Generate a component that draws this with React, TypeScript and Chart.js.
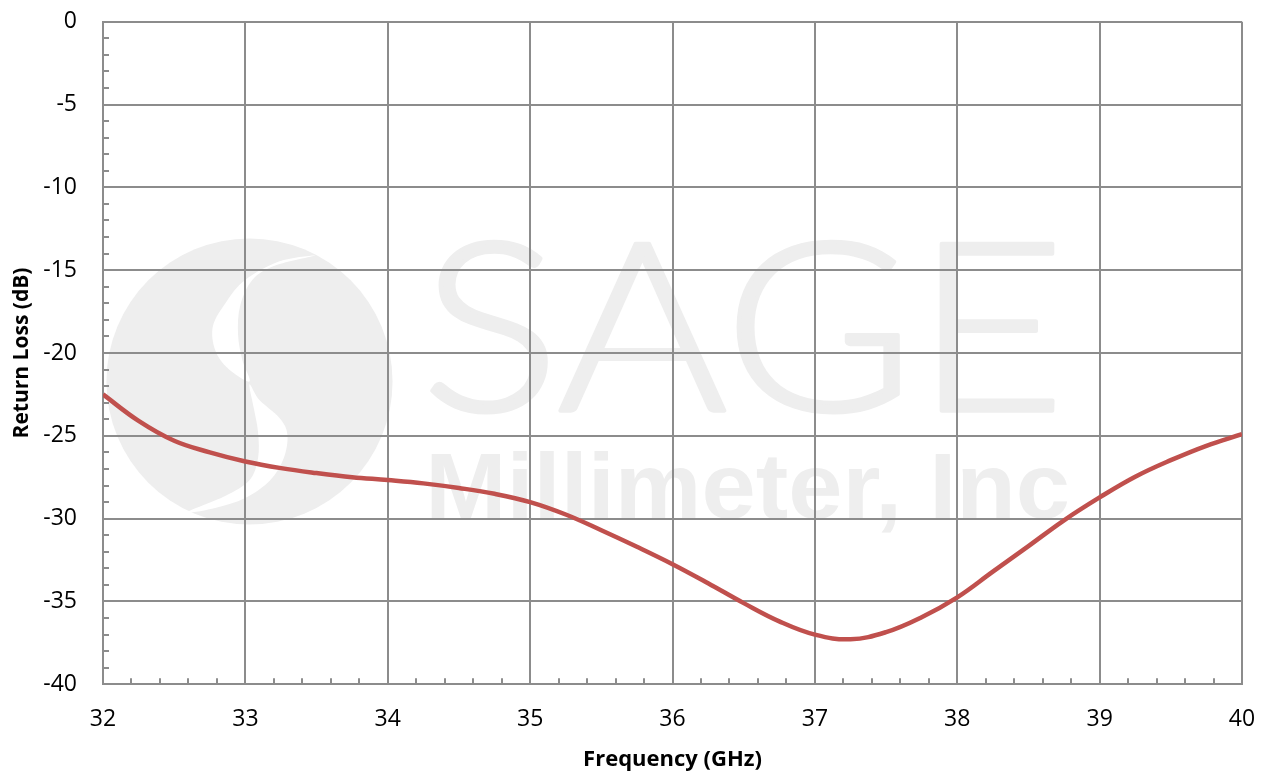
import React, { useEffect, useRef } from "react";
import { Chart, registerables } from "chart.js";

Chart.register(...registerables);

// ---- data ----
const frequencyGHz = [
  32, 32.25, 32.5, 32.75, 33, 33.25, 33.5, 33.75, 34, 34.25, 34.5, 34.75,
  35, 35.25, 35.5, 35.75, 36, 36.25, 36.5, 36.75, 37, 37.25, 37.5, 37.75,
  38, 38.25, 38.5, 38.75, 39, 39.25, 39.5, 39.75, 40,
];
const returnLossDb = [
  -22.5, -24.1, -25.3, -26.0, -26.55, -26.95, -27.25, -27.5, -27.67, -27.87,
  -28.15, -28.5, -29.0, -29.75, -30.7, -31.7, -32.75, -33.9, -35.1, -36.2,
  -37.0, -37.28, -36.85, -35.95, -34.75, -33.2, -31.66, -30.1, -28.72, -27.47,
  -26.47, -25.6, -24.9,
];
const xTickValues = [32, 33, 34, 35, 36, 37, 38, 39, 40];
const yTickValues = [0, -5, -10, -15, -20, -25, -30, -35, -40];
const xMinorStep = 0.2;
const yMinorStep = 1;
const xTitle = "Frequency (GHz)";
const yTitle = "Return Loss (dB)";
const watermarkTitle = "SAGE";
const watermarkSubtitle = "Millimeter, Inc";

// ---- styles ----
const GRID = "#8c8c8c";
const LINE = "#C0504D";
const WM = "#eeeeee";
const FONT = "'Open Sans', 'Liberation Sans', sans-serif";

// logo cut-out shapes, in units of the logo radius relative to its centre
const logoUpperCut: [number, number][] = [
  [0.46, -0.88], [0.21, -0.84], [-0.03, -0.71], [-0.16, -0.56], [-0.255, -0.39],
  [-0.24, -0.22], [-0.15, -0.09], [0.0, 0.0], [-0.05, -0.15], [-0.08, -0.33],
  [-0.065, -0.53], [0.02, -0.71], [0.18, -0.81],
];
const logoLowerCut: [number, number][] = [
  [0.0, 0.02], [0.07, 0.13], [0.21, 0.255], [0.265, 0.37], [0.24, 0.535],
  [0.145, 0.69], [-0.03, 0.815], [-0.24, 0.885], [-0.44, 0.915], [-0.17, 0.8],
  [0.0, 0.69], [0.06, 0.535], [0.06, 0.355], [0.03, 0.185],
];

function catmullClosedPath(ctx: CanvasRenderingContext2D, pts: [number, number][]) {
  const n = pts.length;
  ctx.beginPath();
  ctx.moveTo(pts[0][0], pts[0][1]);
  for (let i = 0; i < n; i++) {
    const p0 = pts[(i - 1 + n) % n];
    const p1 = pts[i];
    const p2 = pts[(i + 1) % n];
    const p3 = pts[(i + 2) % n];
    const c1x = p1[0] + (p2[0] - p0[0]) / 6;
    const c1y = p1[1] + (p2[1] - p0[1]) / 6;
    const c2x = p2[0] - (p3[0] - p1[0]) / 6;
    const c2y = p2[1] - (p3[1] - p1[1]) / 6;
    ctx.bezierCurveTo(c1x, c1y, c2x, c2y, p2[0], p2[1]);
  }
  ctx.closePath();
}

function drawFittedText(
  ctx: CanvasRenderingContext2D,
  text: string,
  font: string,
  left: number,
  baseline: number,
  width: number,
  strokeWidth: number
) {
  ctx.save();
  ctx.font = font;
  ctx.textAlign = "left";
  ctx.textBaseline = "alphabetic";
  const w = ctx.measureText(text).width || 1;
  ctx.translate(left, baseline);
  ctx.scale(width / w, 1);
  ctx.fillText(text, 0, 0);
  if (strokeWidth > 0) {
    ctx.lineWidth = strokeWidth;
    ctx.lineJoin = "round";
    ctx.strokeText(text, 0, 0);
  }
  ctx.restore();
}

const watermarkPlugin = {
  id: "watermark",
  beforeDraw(chart: any) {
    const { ctx, chartArea: ca } = chart;
    ctx.save();
    ctx.fillStyle = "#ffffff";
    ctx.fillRect(0, 0, chart.width, chart.height);

    const W = ca.right - ca.left;
    const H = ca.bottom - ca.top;
    // logo
    const cx = ca.left + 0.1286 * W;
    const cy = ca.top + 0.543 * H;
    const r = 0.1256 * W;
    ctx.fillStyle = WM;
    ctx.beginPath();
    ctx.arc(cx, cy, r, 0, Math.PI * 2);
    ctx.fill();
    ctx.fillStyle = "#ffffff";
    for (const shape of [logoUpperCut, logoLowerCut]) {
      catmullClosedPath(ctx, shape.map(([dx, dy]) => [cx + dx * r, cy + dy * r] as [number, number]));
      ctx.fill();
    }
    // text
    ctx.fillStyle = WM;
    ctx.strokeStyle = WM;
    drawFittedText(ctx, watermarkTitle, `300 236px Lato, ${FONT}`, ca.left + 0.279 * W, ca.top + 0.587 * H, 0.566 * W, 4);
    drawFittedText(ctx, watermarkSubtitle, `bold 92px 'Liberation Sans', Arial, sans-serif`, ca.left + 0.283 * W, ca.top + 0.749 * H, 0.566 * W, 0);
    ctx.restore();
  },
};

const minorTicksPlugin = {
  id: "minorTicks",
  beforeDatasetsDraw(chart: any) {
    const { ctx, chartArea: ca, scales } = chart;
    const xs = scales.x;
    const ys = scales.y;
    ctx.save();
    ctx.strokeStyle = GRID;
    ctx.lineWidth = 2;
    ctx.beginPath();
    const xMin = xTickValues[0];
    const xMax = xTickValues[xTickValues.length - 1];
    const xCount = Math.round((xMax - xMin) / xMinorStep);
    for (let i = 1; i < xCount; i++) {
      if (i % 5 === 0) continue;
      const px = Math.round(xs.getPixelForValue(xMin + i * xMinorStep));
      ctx.moveTo(px, ca.bottom);
      ctx.lineTo(px, ca.bottom - 6);
    }
    const yMax = yTickValues[0];
    const yMin = yTickValues[yTickValues.length - 1];
    const yCount = Math.round((yMax - yMin) / yMinorStep);
    for (let i = 1; i < yCount; i++) {
      if (i % 5 === 0) continue;
      const py = Math.round(ys.getPixelForValue(yMin + i * yMinorStep));
      ctx.moveTo(ca.left, py);
      ctx.lineTo(ca.left + 6, py);
    }
    ctx.stroke();
    ctx.restore();
  },
};

export default function App() {
  const canvasRef = useRef<HTMLCanvasElement | null>(null);

  useEffect(() => {
    if (!canvasRef.current) return;
    const points = frequencyGHz.map((f, i) => ({ x: f, y: returnLossDb[i] }));
    const chart = new Chart(canvasRef.current, {
      type: "line",
      data: {
        datasets: [
          {
            data: points,
            borderColor: LINE,
            borderWidth: 4.5,
            pointRadius: 0,
            tension: 0.4,
            fill: false,
          },
        ],
      },
      options: {
        animation: false,
        responsive: true,
        maintainAspectRatio: false,
        layout: { padding: { top: 21.7, right: 25, bottom: 0, left: 0 } },
        plugins: { legend: { display: false }, tooltip: { enabled: false } },
        scales: {
          x: {
            type: "linear",
            min: xTickValues[0],
            max: xTickValues[xTickValues.length - 1],
            afterBuildTicks: (s: any) => {
              s.ticks = xTickValues.map((v) => ({ value: v }));
            },
            afterFit: (s: any) => {
              s.height = 89.7;
              s.paddingLeft = 0;
              s.paddingRight = 0;
            },
            grid: { color: GRID, lineWidth: 2, drawTicks: false },
            border: { color: GRID, width: 2 },
            ticks: {
              color: "#000",
              font: { family: FONT, size: 23 },
              padding: 21,
              maxRotation: 0,
              autoSkip: false,
            },
            title: {
              display: true,
              text: xTitle,
              color: "#000",
              font: { family: FONT, size: 22, weight: "bold" },
              padding: { top: 0, bottom: 1 },
            },
          },
          y: {
            type: "linear",
            min: yTickValues[yTickValues.length - 1],
            max: yTickValues[0],
            afterBuildTicks: (s: any) => {
              s.ticks = [...yTickValues].reverse().map((v) => ({ value: v }));
            },
            afterFit: (s: any) => {
              s.width = 103;
              s.paddingTop = 0;
              s.paddingBottom = 0;
            },
            grid: { color: GRID, lineWidth: 2, drawTicks: false },
            border: { color: GRID, width: 2 },
            ticks: {
              color: "#000",
              font: { family: FONT, size: 23 },
              padding: 26,
              autoSkip: false,
            },
            title: {
              display: true,
              text: yTitle,
              color: "#000",
              font: { family: FONT, size: 21, weight: "bold" },
              padding: { top: 9, bottom: 0 },
            },
          },
        },
      },
      plugins: [watermarkPlugin, minorTicksPlugin],
    } as any);
    return () => chart.destroy();
  }, []);

  return (
    <div style={{ position: "fixed", left: 0, top: 0, width: 1267, height: 774, background: "#fff" }}>
      <canvas ref={canvasRef} />
    </div>
  );
}
